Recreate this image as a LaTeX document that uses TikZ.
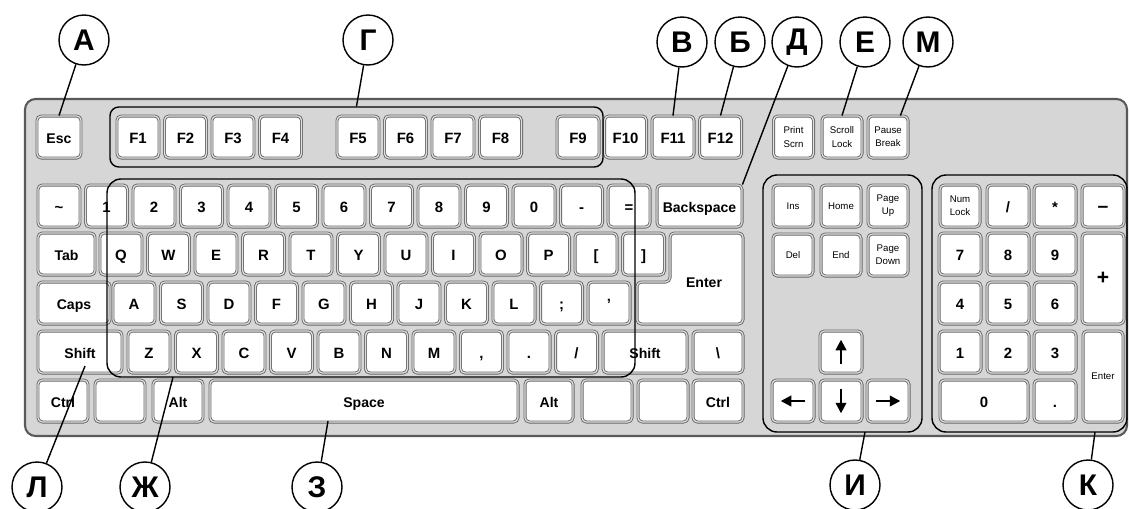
\documentclass[tikz,border=0pt]{standalone}
\usepackage{fontspec}
\setmainfont{Liberation Sans}
\usetikzlibrary{arrows.meta}

\tikzset{
  kw/.style={minimum width=#1*0.02cm},
  kh/.style={minimum height=#1*0.02cm},
  key/.style={draw=black!60, line width=0.5pt, double=black!12, double distance=0.7pt,
    fill=white, rounded corners=2.5pt, kw=42, kh=42, inner sep=0pt,
    text height=0.72em, text depth=0pt,
    font=\fontsize{8.5}{9}\selectfont\bfseries},
  wkey/.style={key, font=\fontsize{8}{9}\selectfont\bfseries},
  tkey/.style={key, kw=40, align=center, text height={}, text depth={},
    font=\fontsize{5.5}{7.5}\selectfont},
  grp/.style={draw, line width=0.8pt, rounded corners=8pt, inner sep=0pt},
  lbl/.style={circle, draw, line width=0.8pt, minimum size=1cm, inner sep=0pt,
    font=\fontsize{17}{18}\selectfont\bfseries},
  pin/.style={line width=0.8pt},
  karrow/.style={line width=1.2pt, -{Triangle[length=6pt,width=6pt]}},
}

\begin{document}
\begin{tikzpicture}[x=0.02cm, y=-0.02cm]
    \useasboundingbox (0,0) rectangle (1129,508);
    \clip (0,0) rectangle (1129,508);
    % keyboard body
    \draw[draw=black!65, line width=1.2pt, fill=black!16, rounded corners=6pt] (25,99) rectangle (1127,436);

    % function row
    \node[wkey, kw=44] (kEsc) at (59,137) {Esc};
    \foreach \i in {1,...,4}
        \node[key] (kF\i) at ({138+47.5*(\i-1)},137) {F\i};
    \foreach \i in {5,...,8}
        \node[key] (kF\i) at ({358+47.5*(\i-5)},137) {F\i};
    \foreach \i in {9,...,12}
        \node[key] (kF\i) at ({578+47.5*(\i-9)},137) {F\i};
    \node[tkey] (kPrt) at (793.5,137) {Print\\Scrn};
    \node[tkey] (kScrl) at (842,137) {Scroll\\Lock};
    \node[tkey] (kPause) at (888,137) {Pause\\Break};

    % main block
    \foreach \t [count=\i from 0] in {\textasciitilde,1,2,3,4,5,6,7,8,9,0,-,=}
        \node[key] (kN\i) at ({59+47.5*\i},206) {\t};
    \node[wkey, kw=85] (kBksp) at (699.5,206) {Backspace};

    \node[wkey, kw=57] (kTab) at (66.5,254) {Tab};
    \foreach \t [count=\i from 0] in {Q,W,E,R,T,Y,U,I,O,P,{[},{]}}
        \node[key] (kQ\i) at ({121+47.5*\i},254) {\t};
    \draw[key] (670,233) -- (743,233) -- (743,324) -- (637,324) -- (637,282) -- (670,282) -- cycle;
    \node[font=\fontsize{8}{9}\selectfont\bfseries] (kEnter) at (704,283) {Enter};

    \node[wkey, kw=72] (kCaps) at (74,303) {Caps};
    \foreach \t [count=\i from 0] in {A,S,D,F,G,H,J,K,L,{;},'}
        \node[key] (kA\i) at ({134+47.5*\i},303) {\t};

    \node[wkey, kw=84] (kLShift) at (80,352) {Shift};
    \foreach \t [count=\i from 0] in {Z,X,C,V,B,N,M,{,},.,/}
        \node[key] (kZ\i) at ({149+47.5*\i},352) {\t};
    \node[wkey, kw=84] (kRShift) at (645,352) {Shift};
    \node[key, kw=50] (kBsl) at (718,352) {\textbackslash};

    \node[wkey, kw=50] (kLCtrl) at (63,401) {Ctrl};
    \node[key, kw=50] (kLWin) at (120,401) {};
    \node[wkey, kw=50] (kLAlt) at (178,401) {Alt};
    \node[wkey, kw=308] (kSpace) at (364,401) {Space};
    \node[wkey, kw=48] (kRAlt) at (549,401) {Alt};
    \node[key, kw=50] (kRWin) at (607,401) {};
    \node[key, kw=50] (kMenu) at (663,401) {};
    \node[wkey, kw=50] (kRCtrl) at (718,401) {Ctrl};

    % navigation block
    \node[tkey] (kIns) at (793,206) {Ins};
    \node[tkey] (kHome) at (841,206) {Home};
    \node[tkey] (kPgUp) at (888,206) {Page\\Up};
    \node[tkey] (kDel) at (793,255) {Del};
    \node[tkey] (kEnd) at (841,255) {End};
    \node[tkey] (kPgDn) at (888,255) {Page\\Down};
    \node[key] (kUp) at (841,352) {};
    \node[key] (kLeft) at (793,401) {};
    \node[key] (kDown) at (841,401) {};
    \node[key] (kRight) at (888,401) {};
    \draw[karrow] ([yshift=-7pt]kUp.center) -- ([yshift=7pt]kUp.center);
    \draw[karrow] ([xshift=7pt]kLeft.center) -- ([xshift=-7pt]kLeft.center);
    \draw[karrow] ([yshift=7pt]kDown.center) -- ([yshift=-7pt]kDown.center);
    \draw[karrow] ([xshift=-7pt]kRight.center) -- ([xshift=7pt]kRight.center);

    % numeric keypad
    \node[tkey] (kNum) at (960,206) {Num\\Lock};
    \node[key] (kDiv) at (1008,206) {/};
    \node[key] (kMul) at (1055,206) {*};
    \node[key, font=\fontsize{11}{12}\selectfont\bfseries] (kSub) at (1103,206) {\textendash};
    \node[key] (kP7) at (960,254) {7};
    \node[key] (kP8) at (1008,254) {8};
    \node[key] (kP9) at (1055,254) {9};
    \node[key, kh=91, font=\fontsize{12}{12}\selectfont\bfseries] (kAdd) at (1103,278.5) {+};
    \node[key] (kP4) at (960,303) {4};
    \node[key] (kP5) at (1008,303) {5};
    \node[key] (kP6) at (1055,303) {6};
    \node[key] (kP1) at (960,352) {1};
    \node[key] (kP2) at (1008,352) {2};
    \node[key] (kP3) at (1055,352) {3};
    \node[tkey, kh=91] (kPEnter) at (1103,376.5) {Enter};
    \node[key, kw=88] (kP0) at (984,401) {0};
    \node[key] (kPDot) at (1055,401) {.};

    % groups
    \node[grp, rounded corners=5pt, kw=493, kh=60] (gFn) at (356.5,137) {};
    \node[grp, kw=528, kh=198] (gMain) at (371,278) {};
    \node[grp, kw=159, kh=257] (gNav) at (842.5,303.5) {};
    \node[grp, kw=195, kh=257] (gPad) at (1029.5,303.5) {};

    % labels
    \node[lbl] (lA) at (84,40) {А};
    \node[lbl] (lG) at (368,40) {Г};
    \node[lbl] (lV) at (682,42) {В};
    \node[lbl] (lB) at (740,42) {Б};
    \node[lbl] (lD) at (797,42) {Д};
    \node[lbl] (lE) at (865,42) {Е};
    \node[lbl] (lM) at (928,42) {М};
    \node[lbl] (lL) at (37,487) {Л};
    \node[lbl] (lZh) at (145,487) {Ж};
    \node[lbl] (lZ) at (317,487) {З};
    \node[lbl] (lI) at (855,485) {И};
    \node[lbl] (lK) at (1088,485) {К};

    \coordinate (pL) at (85,366);
    \coordinate (pZh) at (173,377);
    \coordinate (pZ) at (328,421);
    \coordinate (pI) at (865,432);
    \coordinate (pK) at (1095,432);

    \draw[pin] (lA) -- (kEsc.north);
    \draw[pin] (lG) -- (gFn.north);
    \draw[pin] (lV) -- (kF11.north);
    \draw[pin] (lB) -- (kF12.north);
    \draw[pin] (lD) -- (kBksp.north east);
    \draw[pin] (lE) -- (kScrl.north);
    \draw[pin] (lM) -- (kPause.60);
    \draw[pin] (lL) -- (pL);
    \draw[pin] (lZh) -- (pZh);
    \draw[pin] (lZ) -- (pZ);
    \draw[pin] (lI) -- (pI);
    \draw[pin] (lK) -- (pK);
\end{tikzpicture}
\end{document}
